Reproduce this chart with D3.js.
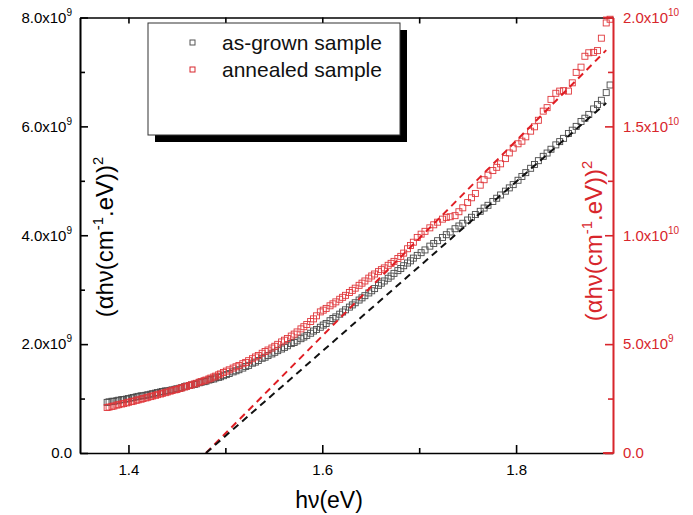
<!DOCTYPE html>
<html>
<head>
<meta charset="utf-8">
<script src="https://cdn.jsdelivr.net/npm/d3@7"></script>
<style>
  body { margin: 0; background: #fff; }
  svg { font-family: "Liberation Sans", Arial, sans-serif; }
</style>
</head>
<body>
<div id="chart"></div>
<script>
// photon energy (eV), shared by both samples
const energy = [
  1.378, 1.380, 1.383, 1.385, 1.388, 1.390, 1.393, 1.395, 1.398, 1.400,
  1.403, 1.405, 1.408, 1.410, 1.413, 1.415, 1.418, 1.420, 1.423, 1.425,
  1.428, 1.430, 1.433, 1.435, 1.438, 1.440, 1.443, 1.445, 1.448, 1.450,
  1.453, 1.455, 1.458, 1.460, 1.463, 1.465, 1.468, 1.470, 1.473, 1.475,
  1.478, 1.480, 1.483, 1.485, 1.488, 1.490, 1.493, 1.495, 1.498,
  1.501, 1.504, 1.508, 1.511, 1.514, 1.518, 1.521, 1.524, 1.528, 1.531,
  1.534, 1.538, 1.541, 1.544, 1.548, 1.551, 1.554, 1.558, 1.561, 1.564,
  1.568, 1.571, 1.574, 1.578, 1.581, 1.584, 1.588, 1.591, 1.594, 1.598,
  1.601, 1.604, 1.608, 1.611, 1.614, 1.618, 1.621, 1.624, 1.628, 1.631,
  1.634, 1.638, 1.641, 1.644, 1.648, 1.651, 1.654, 1.658, 1.661, 1.664,
  1.668, 1.671, 1.674, 1.678, 1.681, 1.684, 1.688, 1.691, 1.694, 1.698,
  1.702, 1.706, 1.711, 1.715, 1.719, 1.724, 1.728, 1.732, 1.737, 1.741,
  1.745, 1.750, 1.754, 1.758, 1.763, 1.767, 1.771, 1.776, 1.780, 1.784,
  1.789, 1.793, 1.797, 1.802, 1.806, 1.810, 1.815, 1.819, 1.823, 1.828,
  1.832, 1.836, 1.841, 1.845, 1.849, 1.854, 1.858, 1.862, 1.867, 1.871,
  1.875, 1.880, 1.884, 1.888, 1.893, 1.897
];

// as-grown sample, (alpha h nu)^2 in units of 1e9 (left axis)
const asGrown = [
  0.93, 0.94, 0.95, 0.95, 0.96, 0.97, 0.98, 0.98, 0.99, 1.00,
  1.01, 1.02, 1.03, 1.04, 1.05, 1.05, 1.06, 1.07, 1.08, 1.09,
  1.10, 1.11, 1.12, 1.13, 1.14, 1.14, 1.15, 1.16, 1.17, 1.18,
  1.19, 1.20, 1.22, 1.23, 1.24, 1.25, 1.26, 1.27, 1.29, 1.30,
  1.31, 1.32, 1.34, 1.35, 1.36, 1.38, 1.39, 1.40, 1.42,
  1.44, 1.46, 1.49, 1.51, 1.53, 1.56, 1.59, 1.61, 1.65, 1.67,
  1.70, 1.74, 1.76, 1.79, 1.82, 1.85, 1.88, 1.91, 1.94, 1.97,
  2.01, 2.03, 2.06, 2.10, 2.13, 2.16, 2.20, 2.24, 2.27, 2.31,
  2.35, 2.38, 2.43, 2.47, 2.50, 2.55, 2.59, 2.63, 2.68, 2.72,
  2.76, 2.81, 2.85, 2.89, 2.94, 2.98, 3.02, 3.08, 3.12, 3.16,
  3.21, 3.25, 3.30, 3.35, 3.39, 3.44, 3.49, 3.53, 3.58, 3.63,
  3.68, 3.73, 3.80, 3.85, 3.90, 3.96, 4.01, 4.06, 4.12, 4.17,
  4.22, 4.28, 4.33, 4.38, 4.44, 4.50, 4.55, 4.62, 4.68, 4.74,
  4.81, 4.87, 4.93, 5.01, 5.08, 5.15, 5.23, 5.30, 5.37, 5.45,
  5.51, 5.58, 5.66, 5.72, 5.78, 5.87, 5.93, 6.00, 6.09, 6.15,
  6.22, 6.32, 6.40, 6.48, 6.62, 6.76
];

// annealed sample, (alpha h nu)^2 in units of 1e10 (right axis)
const annealed = [
  0.209, 0.211, 0.214, 0.216, 0.220, 0.222, 0.225, 0.227, 0.230, 0.233,
  0.236, 0.238, 0.242, 0.244, 0.247, 0.250, 0.253, 0.256, 0.259, 0.262,
  0.265, 0.268, 0.271, 0.274, 0.277, 0.280, 0.284, 0.287, 0.290, 0.292,
  0.296, 0.299, 0.303, 0.306, 0.310, 0.313, 0.317, 0.320, 0.325, 0.328,
  0.332, 0.335, 0.340, 0.344, 0.349, 0.353, 0.359, 0.363, 0.370,
  0.376, 0.382, 0.390, 0.396, 0.402, 0.410, 0.416, 0.424, 0.433, 0.441,
  0.448, 0.458, 0.466, 0.473, 0.482, 0.490, 0.499, 0.510, 0.518, 0.526,
  0.537, 0.546, 0.556, 0.570, 0.580, 0.590, 0.604, 0.616, 0.630, 0.648,
  0.656, 0.664, 0.676, 0.685, 0.694, 0.706, 0.715, 0.724, 0.737, 0.747,
  0.757, 0.770, 0.780, 0.790, 0.803, 0.813, 0.822, 0.833, 0.842, 0.850,
  0.862, 0.871, 0.880, 0.893, 0.903, 0.918, 0.938, 0.953, 0.968, 0.990,
  1.005, 1.018, 1.034, 1.048, 1.060, 1.074, 1.082, 1.085, 1.090, 1.108,
  1.126, 1.150, 1.172, 1.192, 1.230, 1.255, 1.276, 1.297, 1.312, 1.328,
  1.352, 1.378, 1.400, 1.420, 1.432, 1.452, 1.478, 1.498, 1.528, 1.570,
  1.586, 1.624, 1.652, 1.662, 1.664, 1.662, 1.700, 1.748, 1.772, 1.822,
  1.838, 1.840, 1.848, 1.905, 1.975, 1.992
];

// linear fits (Tauc extrapolation): [energy, value]
const fitAsGrown = [[1.48, 0], [1.893, 6.43]];
const fitAnnealed = [[1.48, 0], [1.893, 1.85]];

const xTicks = [1.4, 1.6, 1.8];
const xMinor = [1.5, 1.7];
const leftTicks = [0, 2, 4, 6, 8];
const leftMinor = [1, 3, 5, 7];
const leftLabels = [["0.0", ""], ["2.0x10", "9"], ["4.0x10", "9"], ["6.0x10", "9"], ["8.0x10", "9"]];
const rightTicks = [0, 0.5, 1.0, 1.5, 2.0];
const rightMinor = [0.25, 0.75, 1.25, 1.75];
const rightLabels = [["0.0", ""], ["5.0x10", "9"], ["1.0x10", "10"], ["1.5x10", "10"], ["2.0x10", "10"]];
const legendItems = ["as-grown sample", "annealed sample"];

const RED = "#d8262c";
const width = 693, height = 515;
const plotLeft = 80, plotRight = 613, plotTop = 17.5, plotBottom = 453;

const svg = d3.select("#chart").append("svg")
    .attr("width", width)
    .attr("height", height);

const x = d3.scaleLinear().domain([1.35, 1.9]).range([plotLeft, plotRight]);
const yL = d3.scaleLinear().domain([0, 8]).range([plotBottom, plotTop]);
const yR = d3.scaleLinear().domain([0, 2]).range([plotBottom, plotTop]);

// ---- data ----
const marker = 6;
function drawSeries(vals, y, color) {
    svg.append("g").selectAll("rect")
        .data(energy)
        .enter().append("rect")
        .attr("x", (d) => x(d) - marker / 2)
        .attr("y", (d, i) => y(vals[i]) - marker / 2)
        .attr("width", marker)
        .attr("height", marker)
        .attr("fill", "none")
        .attr("stroke", color)
        .attr("stroke-width", 0.9);
}
drawSeries(asGrown, yL, "#4a4a4a");
drawSeries(annealed, yR, "#e0383c");

const fitLine = (y) => d3.line().x(d => x(d[0])).y(d => y(d[1]));
svg.append("path")
    .attr("d", fitLine(yR)(fitAnnealed))
    .attr("fill", "none").attr("stroke", "#e01e24")
    .attr("stroke-width", 2).attr("stroke-dasharray", "7,5");
svg.append("path")
    .attr("d", fitLine(yL)(fitAsGrown))
    .attr("fill", "none").attr("stroke", "#111")
    .attr("stroke-width", 2).attr("stroke-dasharray", "7,5");

// ---- axes ----
function styleAxis(g, color) {
    g.selectAll("path, line").attr("stroke", color).attr("stroke-width", 1.6);
    g.selectAll("text").attr("fill", color).attr("font-size", 15);
}

// bottom
svg.append("g").attr("transform", `translate(0,${plotBottom})`)
    .call(d3.axisBottom(x).tickValues(xMinor).tickSize(-5).tickFormat("").tickSizeOuter(0))
    .call(g => styleAxis(g, "#000"));
svg.append("g").attr("transform", `translate(0,${plotBottom})`)
    .call(d3.axisBottom(x).tickValues(xTicks).tickSize(-8).tickSizeOuter(0).tickPadding(11)
        .tickFormat(d3.format(".1f")))
    .call(g => styleAxis(g, "#000"))
    .call(g => g.select(".domain").remove());

// top
svg.append("g").attr("transform", `translate(0,${plotTop})`)
    .call(d3.axisTop(x).tickValues(xTicks.concat(xMinor)).tickSize(-6).tickFormat("").tickSizeOuter(0))
    .call(g => styleAxis(g, "#000"));

// the red right axis runs a little way along the frame corners
[plotTop, plotBottom].forEach(yy => {
    svg.append("line")
        .attr("x1", plotRight - 10).attr("x2", plotRight)
        .attr("y1", yy).attr("y2", yy)
        .attr("stroke", RED).attr("stroke-width", 1.8);
});

function labelTicks(g, labels, ticks) {
    g.selectAll(".tick text").each(function(d) {
        const lab = labels[ticks.indexOf(d)];
        const t = d3.select(this).text(null);
        t.append("tspan").text(lab[0]);
        if (lab[1]) t.append("tspan").attr("dy", -7).attr("font-size", 10).text(lab[1]);
    });
}

// left
svg.append("g").attr("transform", `translate(${plotLeft},0)`)
    .call(d3.axisLeft(yL).tickValues(leftMinor).tickSize(-5).tickFormat("").tickSizeOuter(0))
    .call(g => styleAxis(g, "#000"));
svg.append("g").attr("transform", `translate(${plotLeft},0)`)
    .call(d3.axisLeft(yL).tickValues(leftTicks).tickSize(-8).tickSizeOuter(0).tickPadding(8))
    .call(g => styleAxis(g, "#000"))
    .call(g => labelTicks(g, leftLabels, leftTicks));

// right (red)
svg.append("g").attr("transform", `translate(${plotRight},0)`)
    .call(d3.axisRight(yR).tickValues(rightMinor).tickSize(-5).tickFormat("").tickSizeOuter(0))
    .call(g => styleAxis(g, RED));
svg.append("g").attr("transform", `translate(${plotRight},0)`)
    .call(d3.axisRight(yR).tickValues(rightTicks).tickSize(-8).tickSizeOuter(0).tickPadding(10))
    .call(g => styleAxis(g, RED))
    .call(g => labelTicks(g, rightLabels, rightTicks));

// ---- titles ----
function yTitle(cx, cy, color, size) {
    const t = svg.append("text")
        .attr("transform", `translate(${cx},${cy}) rotate(-90)`)
        .attr("text-anchor", "middle")
        .attr("fill", color)
        .attr("font-size", size);
    t.append("tspan").text("(αhν(cm");
    t.append("tspan").attr("dy", -size * 0.42).attr("font-size", size * 0.62).text("-1");
    t.append("tspan").attr("dy", size * 0.42).text(".eV))");
    t.append("tspan").attr("dy", -size * 0.42).attr("font-size", size * 0.62).text("2");
}
yTitle(113, 237, "#000", 24);
yTitle(602, 241, RED, 24);

svg.append("text")
    .attr("x", 329).attr("y", 508)
    .attr("text-anchor", "middle")
    .attr("font-size", 23)
    .text("hν(eV)");

// ---- legend ----
const lg = svg.append("g");
lg.append("rect").attr("x", 155).attr("y", 30).attr("width", 252).attr("height", 112).attr("fill", "#000");
lg.append("rect").attr("x", 148).attr("y", 23).attr("width", 252).attr("height", 112)
    .attr("fill", "#fff").attr("stroke", "#333").attr("stroke-width", 1);
legendItems.forEach((name, i) => {
    const cy = 42 + i * 27;
    lg.append("rect").attr("x", 190).attr("y", cy - 2).attr("width", 5).attr("height", 5)
        .attr("fill", "none").attr("stroke", i === 0 ? "#555" : RED).attr("stroke-width", 1);
    lg.append("text").attr("x", 222).attr("y", cy + 8)
        .attr("font-size", 21).attr("fill", "#111").text(name);
});
</script>
</body>
</html>
